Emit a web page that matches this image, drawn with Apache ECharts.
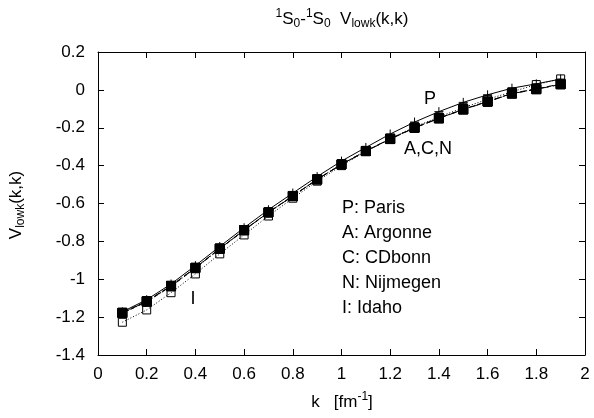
<!DOCTYPE html>
<html>
<head>
<meta charset="utf-8">
<script src="https://cdn.jsdelivr.net/npm/echarts@6/dist/echarts.min.js"></script>
<style>
  html, body { margin: 0; padding: 0; background: #fff; }
  #chart { width: 594px; height: 418px; }
</style>
</head>
<body>
<div id="chart"></div>
<script>
// momentum grid k [fm^-1]
const kValues = [0.1, 0.2, 0.3, 0.4, 0.5, 0.6, 0.7, 0.8, 0.9, 1.0,
                 1.1, 1.2, 1.3, 1.4, 1.5, 1.6, 1.7, 1.8, 1.9];

// diagonal V_lowk(k,k) for each potential
const paris    = [-1.172, -1.108, -1.025, -0.928, -0.827, -0.728, -0.633, -0.545, -0.458, -0.376,
                  -0.304, -0.233, -0.170, -0.115, -0.066, -0.026, 0.009, 0.032, 0.057];
const argonne  = [-1.176, -1.115, -1.034, -0.939, -0.837, -0.740, -0.646, -0.560, -0.472, -0.393,
                  -0.323, -0.259, -0.200, -0.150, -0.103, -0.062, -0.018, 0.005, 0.031];
const cdbonn   = [-1.178, -1.117, -1.036, -0.940, -0.838, -0.741, -0.647, -0.561, -0.473, -0.394,
                  -0.324, -0.260, -0.201, -0.151, -0.104, -0.063, -0.020, 0.003, 0.029];
const nijmegen = [-1.180, -1.119, -1.038, -0.942, -0.840, -0.742, -0.648, -0.561, -0.473, -0.393,
                  -0.322, -0.258, -0.199, -0.149, -0.102, -0.061, -0.019, 0.004, 0.030];
const idaho    = [-1.227, -1.162, -1.071, -0.972, -0.866, -0.766, -0.666, -0.572, -0.482, -0.400,
                  -0.325, -0.258, -0.196, -0.143, -0.094, -0.050, -0.010, 0.028, 0.058];

const legendLines = ['P: Paris', 'A: Argonne', 'C: CDbonn', 'N: Nijmegen', 'I: Idaho'];

const FONT = 'Liberation Sans, Arial, sans-serif';
const FS = 17;      // tick labels and titles
const NOTE_FS = 18; // in-plot annotations

const pair = vals => kValues.map((k, i) => [k, vals[i]]);

const plusSym = 'path://M0,5L10,5M5,0L5,10';

const chart = echarts.init(document.getElementById('chart'), null, { renderer: 'canvas' });

const axisCommon = {
  type: 'value',
  axisLine: { show: true, onZero: false, lineStyle: { color: '#000', width: 1 } },
  axisTick: { show: true, inside: true, length: 6, lineStyle: { color: '#000', width: 1 } },
  splitLine: { show: false },
  axisLabel: { color: '#000', fontSize: FS, fontFamily: FONT },
};

const mkLine = (name, vals, lineType, symbol, size, fill) => ({
  name, type: 'line', data: pair(vals),
  symbol, symbolSize: size,
  showAllSymbol: true,
  lineStyle: { color: '#000', width: 1, type: lineType },
  itemStyle: { color: fill, borderColor: '#000', borderWidth: 1 },
  emphasis: { disabled: true },
  animation: false,
  z: 2,
});

const richBase = {
  m: { fontSize: FS, fontFamily: FONT, color: '#000', lineHeight: 22, verticalAlign: 'middle' },
  sup: { fontSize: 12, fontFamily: FONT, color: '#000', lineHeight: 12, verticalAlign: 'top' },
  sub: { fontSize: 12, fontFamily: FONT, color: '#000', lineHeight: 12, verticalAlign: 'bottom' },
};

const plainText = (txt, x, y, align) => ({
  type: 'text', x, y,
  style: { text: txt, font: NOTE_FS + 'px ' + FONT, fill: '#000', align: align || 'left', verticalAlign: 'middle' },
  z: 10,
});

const option = {
  backgroundColor: '#fff',
  animation: false,
  grid: { left: 98, right: 9, top: 52, bottom: 63, outerBoundsMode: 'none' },
  xAxis: [
    Object.assign({}, axisCommon, {
      min: 0, max: 2, interval: 0.2, position: 'bottom',
      axisLabel: Object.assign({}, axisCommon.axisLabel, { margin: 11 }),
    }),
    Object.assign({}, axisCommon, {
      min: 0, max: 2, interval: 0.2, position: 'top',
      axisLabel: { show: false },
    }),
  ],
  yAxis: [
    Object.assign({}, axisCommon, {
      min: -1.4, max: 0.2, interval: 0.2, position: 'left',
      axisLabel: Object.assign({}, axisCommon.axisLabel, { margin: 13 }),
    }),
    Object.assign({}, axisCommon, {
      min: -1.4, max: 0.2, interval: 0.2, position: 'right',
      axisLabel: { show: false },
    }),
  ],
  series: [
    mkLine('Paris', paris, 'solid', plusSym, 9, 'none'),
    mkLine('Argonne', argonne, [6, 3], 'rect', 9, '#000'),
    mkLine('CDbonn', cdbonn, [8, 4], 'rect', 9, '#000'),
    mkLine('Nijmegen', nijmegen, [4, 2, 1, 2], 'rect', 9, '#000'),
    mkLine('Idaho', idaho, [1, 2], 'rect', 8, 'rgba(0,0,0,0)'),
  ],
  graphic: [
    {
      type: 'text', x: 342, y: 19,
      style: {
        text: '{sup|1}{m|S}{sub|0}{m|-}{sup|1}{m|S}{sub|0}{m|  V}{sub|lowk}{m|(k,k)}',
        rich: richBase, align: 'center', verticalAlign: 'middle',
      },
      z: 10,
    },
    {
      type: 'text', x: 16, y: 205, rotation: Math.PI / 2,
      style: {
        text: '{m|V}{sub|lowk}{m|(k,k)}',
        rich: richBase, align: 'center', verticalAlign: 'middle',
      },
      z: 10,
    },
    {
      type: 'text', x: 342, y: 402,
      style: {
        text: '{m|k   [fm}{sup|-1}{m|]}',
        rich: richBase, align: 'center', verticalAlign: 'middle',
      },
      z: 10,
    },
    plainText('P', 430, 99, 'center'),
    plainText('A,C,N', 428, 149, 'center'),
    plainText('I', 193, 299, 'center'),
  ].concat(legendLines.map((t, i) => plainText(t, 342, 208 + i * 25, 'left'))),
};

chart.setOption(option);
</script>
</body>
</html>
